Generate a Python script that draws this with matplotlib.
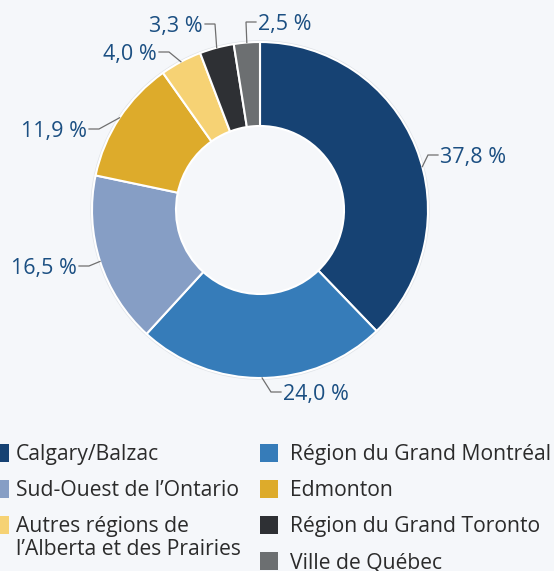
import numpy as np
import matplotlib
matplotlib.use("Agg")
import matplotlib.pyplot as plt
from matplotlib.patches import Rectangle

# ---------------- data ----------------
categories = ["Calgary/Balzac", "Région du Grand Montréal", "Sud-Ouest de l’Ontario",
              "Edmonton", "Autres régions de\nl’Alberta et des Prairies",
              "Région du Grand Toronto", "Ville de Québec"]
values = [37.8, 24.0, 16.5, 11.9, 4.0, 3.3, 2.5]
labels = ["37,8 %", "24,0 %", "16,5 %", "11,9 %", "4,0 %", "3,3 %", "2,5 %"]
colors = ["#164273", "#367cb9", "#869ec5", "#ddab2b", "#f6d274", "#2e3034", "#6c6f71"]

# ---------------- layout (pixels) ----------------
W, H = 554, 571
CX, CY, R = 260, 210, 168          # ring centre / outer radius (px, y from top)
RING_W = 0.5
BG = "#f5f7fa"
LABEL_COL = "#1b4f82"
TEXT_COL = "#2b2b2b"
FONT = ["Open Sans", "DejaVu Sans"]

# label text anchor (px), horizontal alignment, attach-angle tweak (deg)
label_pos = [(440, 155, "left", -7), (283, 392, "left", 0), (77, 266, "right", 0),
             (87, 129, "right", 0), (157, 52, "right", 0), (203, 24, "right", 0),
             (258, 22, "left", 0)]

fig = plt.figure(figsize=(W / 100, H / 100), dpi=100)
fig.patch.set_facecolor(BG)

half = 180
ax = fig.add_axes([(CX - half) / W, (H - CY - half) / H, 2 * half / W, 2 * half / H])
ax.set_facecolor("none")

wedges, _ = ax.pie(values, colors=colors, startangle=90, counterclock=False, radius=1.0,
                   wedgeprops=dict(width=RING_W, edgecolor="white", linewidth=1.5))
# faint outer rim
ax.add_patch(plt.Circle((0, 0), 1.006, fill=False, edgecolor="#dfe3e8", linewidth=1.0, zorder=0))
lim = half / R
ax.set_xlim(-lim, lim)
ax.set_ylim(-lim, lim)
ax.set_aspect("equal")
ax.axis("off")

# overlay axes in pixel coordinates
ov = fig.add_axes([0, 0, 1, 1])
ov.set_xlim(0, W)
ov.set_ylim(H, 0)
ov.axis("off")
ov.set_facecolor("none")

for w, lab, (tx, ty, ha, tweak) in zip(wedges, labels, label_pos):
    ang = np.deg2rad((w.theta1 + w.theta2) / 2 + tweak)
    ax_px = CX + R * np.cos(ang)
    ay_px = CY - R * np.sin(ang)
    sgn = 1 if ha == "left" else -1
    edge = tx - sgn * 2
    bend = tx - sgn * 12
    ov.plot([ax_px, bend, edge], [ay_px, ty, ty], color="#6f6f6f", lw=0.9,
            solid_joinstyle="miter")
    ov.text(tx, ty, lab, ha=ha, va="center_baseline", fontsize=15.5, color=LABEL_COL,
            family=FONT)

# ---------------- legend ----------------
# (column x of square, row centre y) for each legend item, in order
legend_slots = [(-9, 453), (260, 453), (-9, 489), (260, 489), (-9, 525), (260, 525), (260, 561)]
SQ = 18
for cat, col, (x0, y0) in zip(categories, colors, legend_slots):
    ov.add_patch(Rectangle((x0, y0 - SQ / 2), SQ, SQ, facecolor=col, edgecolor="none"))
    tx = 16 if x0 < 0 else x0 + SQ + 12
    ov.text(tx, y0 - 9, cat, ha="left", va="top",
            fontsize=15.2, color=TEXT_COL, family=FONT, linespacing=1.12)

fig.savefig("out.png", dpi=100, facecolor=BG)
